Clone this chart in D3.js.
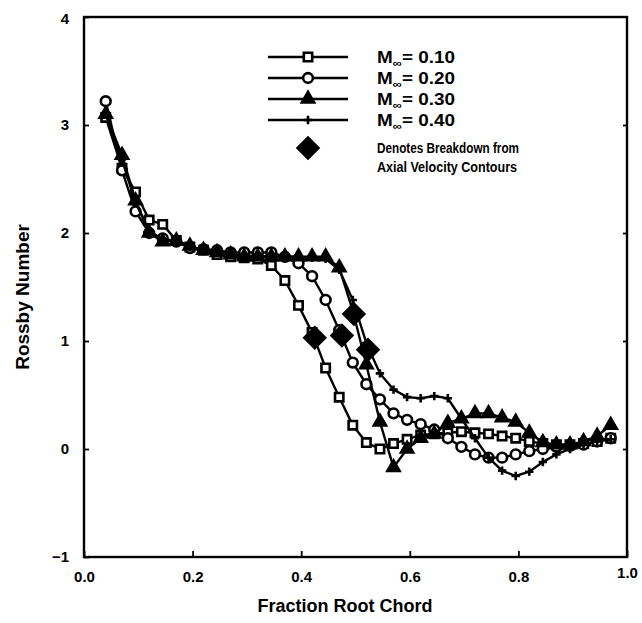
<!DOCTYPE html>
<html>
<head>
<meta charset="utf-8">
<script src="https://cdn.jsdelivr.net/npm/d3@7"></script>
<style>
  body { margin: 0; background: #fff; }
  svg { display: block; font-family: "Liberation Sans", Arial, sans-serif; font-weight: bold; }
</style>
</head>
<body>
<svg id="chart" width="642" height="623"></svg>
<script>
// chart data
const chordFraction = [0.04, 0.07, 0.095, 0.12, 0.145, 0.17, 0.195, 0.22, 0.245, 0.27, 0.295, 0.32, 0.345,
  0.37, 0.395, 0.42, 0.445, 0.47, 0.495, 0.52, 0.545, 0.57, 0.595, 0.62, 0.645, 0.67, 0.695, 0.72, 0.745,
  0.77, 0.795, 0.82, 0.845, 0.87, 0.895, 0.92, 0.945, 0.97];

const rossbyM10 = [3.07, 2.6, 2.38, 2.12, 2.08, 1.93, 1.87, 1.84, 1.8, 1.78, 1.77, 1.76, 1.7,
  1.56, 1.33, 1.08, 0.75, 0.48, 0.22, 0.06, 0.0, 0.05, 0.09, 0.13, 0.14, 0.15, 0.16, 0.15, 0.14,
  0.12, 0.1, 0.07, 0.05, 0.04, 0.04, 0.05, 0.07, 0.1];
const rossbyM20 = [3.22, 2.58, 2.2, 2.0, 1.95, 1.92, 1.86, 1.85, 1.84, 1.82, 1.82, 1.82, 1.82,
  1.78, 1.72, 1.6, 1.38, 1.1, 0.8, 0.6, 0.46, 0.33, 0.27, 0.23, 0.18, 0.1, 0.02, -0.05, -0.08,
  -0.08, -0.05, -0.02, 0.0, 0.02, 0.03, 0.04, 0.07, 0.1];
const rossbyM30 = [3.1, 2.72, 2.3, 2.0, 1.92, 1.93, 1.88, 1.84, 1.82, 1.8, 1.78, 1.78, 1.78,
  1.78, 1.78, 1.78, 1.78, 1.68, 1.28, 0.78, 0.25, -0.17, 0.0, 0.1, 0.14, 0.24, 0.28, 0.33, 0.33,
  0.29, 0.25, 0.15, 0.06, 0.04, 0.04, 0.07, 0.12, 0.22];
const rossbyM40 = [3.1, 2.68, 2.28, 2.02, 1.94, 1.92, 1.87, 1.84, 1.82, 1.8, 1.79, 1.79, 1.78,
  1.78, 1.78, 1.77, 1.76, 1.66, 1.38, 0.98, 0.7, 0.55, 0.48, 0.47, 0.49, 0.47, 0.28, 0.1, -0.08,
  -0.2, -0.25, -0.21, -0.12, -0.05, 0.0, 0.04, 0.07, 0.09];

const machLabels = ["0.10", "0.20", "0.30", "0.40"];
const breakdownX = [0.425, 0.475, 0.497, 0.523];
const breakdownY = [1.03, 1.05, 1.25, 0.92];

const xTicks = [0, 0.2, 0.4, 0.6, 0.8, 1.0];
const yTicks = [-1, 0, 1, 2, 3, 4];

// plus sign marker
const symbolPlusMark = {
  draw(ctx, size) {
    const r = Math.sqrt(size) / 2;
    ctx.moveTo(-r, 0); ctx.lineTo(r, 0);
    ctx.moveTo(0, -r); ctx.lineTo(0, r);
  }
};

const series = [
  { values: rossbyM10, symbol: d3.symbolSquare, size: 70, fill: "#fff" },
  { values: rossbyM20, symbol: d3.symbolCircle, size: 75, fill: "#fff" },
  { values: rossbyM30, symbol: d3.symbolTriangle, size: 65, fill: "#000" },
  { values: rossbyM40, symbol: symbolPlusMark, size: 70, fill: "none" }
];

const svg = d3.select("#chart");
const plotLeft = 84, plotRight = 627, plotTop = 17, plotBottom = 557;

const x = d3.scaleLinear().domain([0, 1]).range([plotLeft, plotRight]);
const y = d3.scaleLinear().domain([-1, 4]).range([plotBottom, plotTop]);

// frame
svg.append("rect")
  .attr("x", plotLeft).attr("y", plotTop)
  .attr("width", plotRight - plotLeft).attr("height", plotBottom - plotTop)
  .attr("fill", "none").attr("stroke", "#000").attr("stroke-width", 2.4);

// axes
const xAxis = svg.append("g")
  .attr("transform", `translate(0,${plotBottom})`)
  .call(d3.axisBottom(x).tickValues(xTicks).tickFormat(d3.format(".1f"))
    .tickSizeInner(-6).tickSizeOuter(0).tickPadding(14));

const yAxis = svg.append("g")
  .attr("transform", `translate(${plotLeft},0)`)
  .call(d3.axisLeft(y).tickValues(yTicks).tickFormat(d3.format("d"))
    .tickSizeInner(-5).tickSizeOuter(0).tickPadding(15));

svg.append("g")
  .attr("transform", `translate(${plotRight},0)`)
  .call(d3.axisRight(y).tickValues([0, 1, 2, 3]).tickFormat("")
    .tickSizeInner(-4).tickSizeOuter(0));

svg.selectAll(".domain").remove();
svg.selectAll(".tick line").attr("stroke", "#000").attr("stroke-width", 1.8);
svg.selectAll(".tick text")
  .attr("fill", "#000")
  .style("font-size", "15px").style("font-weight", "bold")
  .style("font-family", '"Liberation Sans", Arial, sans-serif');

yAxis.selectAll(".tick text").filter(d => d === 4).attr("dy", "0.45em");
xAxis.selectAll(".tick text").filter(d => d === 1).attr("dy", "0.45em");

// axis titles
svg.append("text")
  .attr("x", 345).attr("y", 612)
  .attr("text-anchor", "middle")
  .style("font-size", "18px")
  .text("Fraction Root Chord");

svg.append("text")
  .attr("transform", "translate(29,297) rotate(-90)")
  .attr("text-anchor", "middle")
  .style("font-size", "19px")
  .text("Rossby Number");

// lines and markers
const line = d3.line().x((d, i) => x(chordFraction[i])).y(d => y(d));

series.forEach(s => {
  svg.append("path")
    .datum(s.values)
    .attr("d", line)
    .attr("fill", "none")
    .attr("stroke", "#000")
    .attr("stroke-width", 2.4);

  svg.append("g")
    .selectAll("path")
    .data(s.values)
    .join("path")
    .attr("transform", (d, i) => `translate(${x(chordFraction[i])},${y(d)})`)
    .attr("d", d3.symbol().type(s.symbol).size(s.size))
    .attr("fill", s.fill)
    .attr("stroke", "#000")
    .attr("stroke-width", 2.6);
});

// breakdown diamonds
svg.append("g")
  .selectAll("path")
  .data(breakdownX)
  .join("path")
  .attr("transform", (d, i) => `translate(${x(d)},${y(breakdownY[i])}) rotate(45)`)
  .attr("d", d3.symbol().type(d3.symbolSquare).size(300))
  .attr("fill", "#000");

// legend
const legend = svg.append("g");
const rowY = [57, 78, 99, 120];

series.forEach((s, i) => {
  legend.append("line")
    .attr("x1", 268).attr("x2", 348)
    .attr("y1", rowY[i]).attr("y2", rowY[i])
    .attr("stroke", "#000").attr("stroke-width", 2.4);
  legend.append("path")
    .attr("transform", `translate(308,${rowY[i]})`)
    .attr("d", d3.symbol().type(s.symbol).size(s.size))
    .attr("fill", s.fill)
    .attr("stroke", "#000")
    .attr("stroke-width", 2.6);
  const t = legend.append("text")
    .attr("x", 377).attr("y", rowY[i] + 6)
    .attr("textLength", 78).attr("lengthAdjust", "spacingAndGlyphs")
    .style("font-size", "16px");
  t.append("tspan").text("M");
  t.append("tspan").attr("dy", 4).style("font-size", "11px").text("\u221e");
  t.append("tspan").attr("dy", -4).text("= " + machLabels[i]);
});

legend.append("path")
  .attr("transform", "translate(308,148) rotate(45)")
  .attr("d", d3.symbol().type(d3.symbolSquare).size(300))
  .attr("fill", "#000");

legend.append("text")
  .attr("x", 377).attr("y", 153)
  .attr("textLength", 142).attr("lengthAdjust", "spacingAndGlyphs")
  .style("font-size", "14px")
  .text("Denotes Breakdown from");
legend.append("text")
  .attr("x", 377).attr("y", 172)
  .attr("textLength", 140).attr("lengthAdjust", "spacingAndGlyphs")
  .style("font-size", "14px")
  .text("Axial Velocity Contours");
</script>
</body>
</html>
